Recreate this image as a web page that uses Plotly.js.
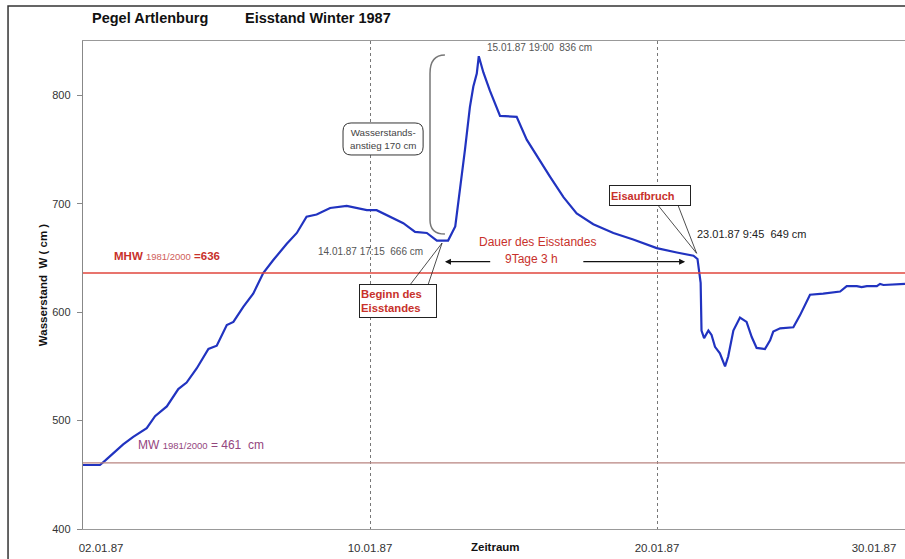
<!DOCTYPE html>
<html>
<head>
<meta charset="utf-8">
<script src="https://cdn.plot.ly/plotly-3.0.1.min.js"></script>
<style>html,body{margin:0;padding:0;background:#fff;}#chart{width:905px;height:559px;}</style>
</head>
<body>
<div id="chart"></div>
<script>
// Time in days of January 1987 (fractional), water level in cm
const timeDays = [2.0, 2.59, 2.77, 3.06, 3.40, 3.75, 4.22, 4.51, 4.92, 5.32, 5.61, 5.96, 6.37, 6.66, 7.01, 7.24, 7.59, 7.93, 8.28, 8.63,
  9.10, 9.45, 9.79, 10.14, 10.61, 11.19, 11.54, 11.89, 12.23, 12.70, 13.16, 13.57, 13.98, 14.33, 14.72, 14.97, 15.14, 15.31, 15.48, 15.60,
  15.72, 15.79, 15.95, 16.18, 16.53, 17.11, 17.46, 17.81, 18.27, 18.74, 19.20, 19.78, 20.48, 21.17, 21.99, 22.69, 23.27, 23.41, 23.52, 23.55,
  23.64, 23.79, 23.90, 24.02, 24.19, 24.37, 24.48, 24.66, 24.89, 25.12, 25.30, 25.47, 25.76, 25.94, 26.05, 26.29, 26.75, 26.98, 27.33, 27.79,
  28.38, 28.61, 28.96, 29.13, 29.31, 29.66, 29.77, 29.89, 30.64];
const waterLevel = [459, 459, 463, 470, 478, 485, 493, 504, 513, 529, 535, 548, 566, 569, 588, 591, 605, 617, 636, 648,
  663, 673, 688, 690, 696, 698, 696, 694, 694, 688, 682, 674, 673, 666, 666, 679, 713, 750, 789, 808,
  820, 836, 821, 804, 781, 780, 759, 744, 725, 706, 691, 681, 673, 667, 659, 655, 652, 649, 627, 583,
  576, 583, 579, 568, 562, 550, 559, 583, 595, 591, 577, 567, 566, 574, 582, 585, 586, 597, 616, 617,
  619, 624, 624, 623, 624, 624, 626, 625, 626];
const mhwLevel = 636;
const mwLevel = 461;
const xTickVals = [2.63, 12, 22, 29.56];
const xTickText = ['02.01.87', '10.01.87', '20.01.87', '30.01.87'];
const gridDays = [12, 22];
const yTickVals = [400, 500, 600, 700, 800];

const FONT = 'Arial, "Liberation Sans", sans-serif';
const RED = '#c8312b';

const trace = {
  x: timeDays, y: waterLevel, type: 'scatter', mode: 'lines',
  line: {color: '#2133c0', width: 2.2}, hoverinfo: 'x+y', showlegend: false
};

const shapes = [
  // outer frame
  {type: 'path', xref: 'paper', yref: 'paper', path: 'M -0.0912,-0.2 L -0.0912,1.0717 L 1.2,1.0717',
   line: {color: '#333', width: 1.5}},
  // reference lines
  {type: 'line', xref: 'paper', x0: 0, x1: 1, yref: 'y', y0: mhwLevel, y1: mhwLevel, line: {color: '#e0463c', width: 1.5}},
  {type: 'line', xref: 'paper', x0: 0, x1: 1, yref: 'y', y0: mwLevel, y1: mwLevel, line: {color: '#b88480', width: 1.3}},
  // bracket
  {type: 'path', xref: 'x', yref: 'y', path: 'M 14.61,837 Q 14.09,837 14.09,820 L 14.09,685 Q 14.09,672 14.61,672',
   line: {color: '#777', width: 1.5}},
  // rounded box for Wasserstandsanstieg
  {type: 'path', xref: 'x', yref: 'y',
   path: 'M 11.34,774.4 L 13.57,774.4 Q 13.85,774.4 13.85,767 L 13.85,752.3 Q 13.85,744.9 13.57,744.9 L 11.34,744.9 Q 11.06,744.9 11.06,752.3 L 11.06,767 Q 11.06,774.4 11.34,774.4 Z',
   line: {color: '#333', width: 1}, fillcolor: '#fff'},
  // callout wedge Beginn des Eisstandes
  {type: 'path', xref: 'x', yref: 'y', path: 'M 13.39,625 L 14.51,663.7 L 14.02,625',
   line: {color: '#222', width: 0.8}},
  // callout wedge Eisaufbruch
  {type: 'path', xref: 'x', yref: 'y', path: 'M 22.05,698 L 23.38,654.2 L 22.74,698',
   line: {color: '#222', width: 0.8}}
];

const small = {family: FONT, size: 10, color: '#555'};
const annotations = [
  {xref: 'paper', yref: 'paper', x: 0.0815, y: 1.0471, xanchor: 'center', yanchor: 'middle',
   text: '<b>Pegel Artlenburg</b>', showarrow: false, font: {family: FONT, size: 14.5, color: '#111'}},
  {xref: 'paper', yref: 'paper', x: 0.2859, y: 1.0471, xanchor: 'center', yanchor: 'middle',
   text: '<b>Eisstand Winter 1987</b>', showarrow: false, font: {family: FONT, size: 14.5, color: '#111'}},
  {xref: 'x', yref: 'paper', x: 16.36, y: -0.037, xanchor: 'center', yanchor: 'middle', text: '<b>Zeitraum</b>', showarrow: false,
   font: {family: FONT, size: 11.5, color: '#111'}},
  {xref: 'x', yref: 'y', x: 16.01, y: 843.6, xanchor: 'left', text: '15.01.87 19:00  836 cm', showarrow: false, font: small},
  {xref: 'x', yref: 'y', x: 12.45, y: 759.6, text: 'Wasserstands-<br>anstieg 170 cm', showarrow: false,
   font: {family: FONT, size: 9.8, color: '#444'}},
  {xref: 'x', yref: 'y', x: 12.02, y: 655.7, text: '14.01.87 17:15  666 cm', showarrow: false, font: small},
  {xref: 'x', yref: 'y', x: 12.99, y: 609.8, text: '<b>Beginn des<br>Eisstandes</b>', showarrow: false, align: 'left',
   width: 74, height: 30, bgcolor: '#fff', bordercolor: '#222', borderwidth: 1, borderpad: 1,
   font: {family: FONT, size: 11.3, color: RED}},
  {xref: 'x', yref: 'y', x: 21.74, y: 707.5, text: '<b>Eisaufbruch</b>', showarrow: false, align: 'left',
   width: 78, height: 17, bgcolor: '#fff', bordercolor: '#222', borderwidth: 1, borderpad: 1,
   font: {family: FONT, size: 11, color: RED}},
  {xref: 'x', yref: 'y', x: 23.32, y: 672, xanchor: 'left', text: '23.01.87 9:45  649 cm', showarrow: false,
   font: {family: FONT, size: 11, color: '#222'}},
  {xref: 'x', yref: 'y', x: 17.85, y: 664.7, text: 'Dauer des Eisstandes', showarrow: false,
   font: {family: FONT, size: 12, color: RED}},
  {xref: 'x', yref: 'y', x: 17.61, y: 648.7, text: '9Tage 3 h', showarrow: false,
   font: {family: FONT, size: 12, color: RED}},
  {xref: 'x', yref: 'y', x: 14.61, y: 646.5, ax: 16.24, ay: 646.5, axref: 'x', ayref: 'y', text: '', showarrow: true,
   arrowhead: 2, arrowsize: 1, arrowwidth: 1.2, arrowcolor: '#111'},
  {xref: 'x', yref: 'y', x: 22.98, y: 646.5, ax: 19.38, ay: 646.5, axref: 'x', ayref: 'y', text: '', showarrow: true,
   arrowhead: 2, arrowsize: 1, arrowwidth: 1.2, arrowcolor: '#111'},
  {xref: 'x', yref: 'y', x: 3.0, y: 651.8, xanchor: 'left', showarrow: false,
   text: '<b>MHW</b> <span style="font-size:9.5px;color:#d0605a">1981/2000</span> <b>=636</b>',
   font: {family: FONT, size: 11.5, color: RED}},
  {xref: 'x', yref: 'y', x: 3.83, y: 477.5, xanchor: 'left', showarrow: false,
   text: 'MW <span style="font-size:9.5px">1981/2000</span> = 461  cm',
   font: {family: FONT, size: 12, color: '#94467e'}}
];

const layout = {
  width: 905, height: 559,
  margin: {l: 83, r: 0, t: 41, b: 30},
  paper_bgcolor: '#fff', plot_bgcolor: '#fff',
  font: {family: FONT, size: 11, color: '#333'},
  showlegend: false,
  xaxis: {
    type: 'linear', range: [2, 30.64], showgrid: false, zeroline: false,
    tickmode: 'array', tickvals: xTickVals, ticktext: xTickText, ticks: '',
    ticklabelstandoff: 8, tickfont: {family: FONT, size: 11.5, color: '#333'},
    showline: true, linecolor: '#999', linewidth: 1.2, mirror: true,
    minor: {tickmode: 'array', tickvals: gridDays, showgrid: true, gridcolor: '#777', griddash: 'dot', gridwidth: 1, ticks: ''}
  },
  yaxis: {
    range: [400, 850], showgrid: false, zeroline: false,
    tickmode: 'array', tickvals: yTickVals, ticks: 'outside', ticklen: 5, tickcolor: '#888',
    ticklabelstandoff: 4, tickfont: {family: FONT, size: 11, color: '#333'},
    showline: true, linecolor: '#888', linewidth: 1.2,
    title: {text: '<b>Wasserstand  W ( cm )</b>', standoff: 2, font: {family: FONT, size: 11.5, color: '#111'}}
  },
  shapes: shapes,
  annotations: annotations
};

Plotly.newPlot('chart', [trace], layout, {staticPlot: true, displayModeBar: false});
</script>
</body>
</html>
